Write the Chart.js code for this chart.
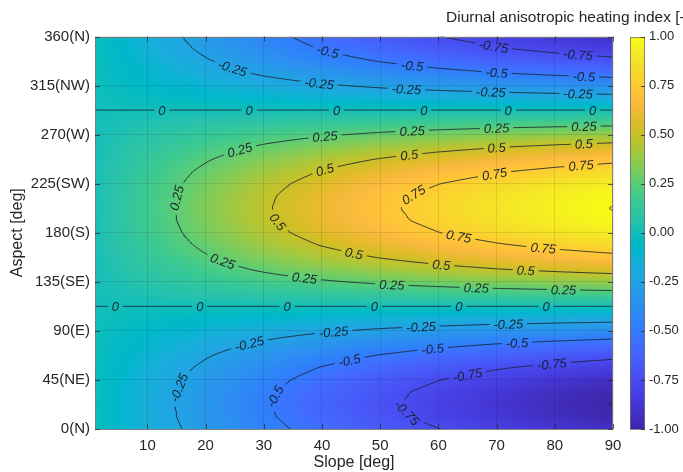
<!DOCTYPE html>
<html><head><meta charset="utf-8">
<script src="https://cdn.jsdelivr.net/npm/chart.js@4.4.1/dist/chart.umd.min.js"></script>
<style>html,body{margin:0;padding:0;background:#fff;overflow:hidden;}#wrap{width:683px;height:472px;position:relative;}canvas{display:block;}</style>
</head><body><div id="wrap"><canvas id="c" width="683" height="472"></canvas></div>
<script>
// ---------------- data ----------------
const slopeNodes = [0, 10, 20, 30, 40, 50, 60, 70, 80, 90];
const aspectNodes = [0, 11.25, 22.5, 33.75, 45, 56.25, 67.5, 78.75, 90, 101.25, 112.5, 123.75, 135, 146.25, 157.5, 168.75, 180, 191.25, 202.5, 213.75, 225, 236.25, 247.5, 258.75, 270, 281.25, 292.5, 303.75, 315, 326.25, 337.5, 348.75, 360];
// heating index, one row per aspect node, one column per slope node
const dahValues = [
  [0,-0.160,-0.310,-0.446,-0.563,-0.663,-0.747,-0.818,-0.877,-0.927],
  [0,-0.169,-0.329,-0.473,-0.598,-0.704,-0.793,-0.868,-0.931,-0.985],
  [0,-0.173,-0.336,-0.482,-0.610,-0.718,-0.808,-0.885,-0.949,-1.004],
  [0,-0.169,-0.329,-0.473,-0.598,-0.704,-0.793,-0.868,-0.931,-0.985],
  [0,-0.160,-0.310,-0.446,-0.563,-0.663,-0.747,-0.818,-0.877,-0.927],
  [0,-0.144,-0.279,-0.401,-0.507,-0.597,-0.672,-0.736,-0.789,-0.835],
  [0,-0.122,-0.237,-0.341,-0.431,-0.507,-0.572,-0.626,-0.671,-0.710],
  [0,-0.096,-0.187,-0.268,-0.339,-0.399,-0.449,-0.492,-0.527,-0.558],
  [0,-0.066,-0.129,-0.185,-0.233,-0.275,-0.309,-0.339,-0.363,-0.384],
  [0,-0.034,-0.066,-0.094,-0.119,-0.140,-0.158,-0.173,-0.185,-0.196],
  [0,0,0,0,0,0,0,0,0,0],
  [0,0.034,0.066,0.094,0.119,0.140,0.158,0.173,0.185,0.196],
  [0,0.066,0.129,0.185,0.233,0.275,0.309,0.339,0.363,0.384],
  [0,0.096,0.187,0.268,0.339,0.399,0.449,0.492,0.527,0.558],
  [0,0.122,0.237,0.341,0.431,0.507,0.572,0.626,0.671,0.710],
  [0,0.144,0.279,0.401,0.507,0.597,0.672,0.736,0.789,0.835],
  [0,0.160,0.310,0.446,0.563,0.663,0.747,0.818,0.877,0.927],
  [0,0.169,0.329,0.473,0.598,0.704,0.793,0.868,0.931,0.985],
  [0,0.173,0.336,0.482,0.610,0.718,0.808,0.885,0.949,1.004],
  [0,0.169,0.329,0.473,0.598,0.704,0.793,0.868,0.931,0.985],
  [0,0.160,0.310,0.446,0.563,0.663,0.747,0.818,0.877,0.927],
  [0,0.144,0.279,0.401,0.507,0.597,0.672,0.736,0.789,0.835],
  [0,0.122,0.237,0.341,0.431,0.507,0.572,0.626,0.671,0.710],
  [0,0.096,0.187,0.268,0.339,0.399,0.449,0.492,0.527,0.558],
  [0,0.066,0.129,0.185,0.233,0.275,0.309,0.339,0.363,0.384],
  [0,0.034,0.066,0.094,0.119,0.140,0.158,0.173,0.185,0.196],
  [0,0,0,0,0,0,0,0,0,0],
  [0,-0.034,-0.066,-0.094,-0.119,-0.140,-0.158,-0.173,-0.185,-0.196],
  [0,-0.066,-0.129,-0.185,-0.233,-0.275,-0.309,-0.339,-0.363,-0.384],
  [0,-0.096,-0.187,-0.268,-0.339,-0.399,-0.449,-0.492,-0.527,-0.558],
  [0,-0.122,-0.237,-0.341,-0.431,-0.507,-0.572,-0.626,-0.671,-0.710],
  [0,-0.144,-0.279,-0.401,-0.507,-0.597,-0.672,-0.736,-0.789,-0.835],
  [0,-0.160,-0.310,-0.446,-0.563,-0.663,-0.747,-0.818,-0.877,-0.927]
];
const contourLevels = [-1, -0.75, -0.5, -0.25, 0, 0.25, 0.5, 0.75, 1];
const xTickValues = [10, 20, 30, 40, 50, 60, 70, 80, 90];
const yTickValues = [0, 45, 90, 135, 180, 225, 270, 315, 360];
const yTickLabels = ['0(N)', '45(NE)', '90(E)', '135(SE)', '180(S)', '225(SW)', '270(W)', '315(NW)', '360(N)'];
const colorbarTicks = [-1, -0.75, -0.5, -0.25, 0, 0.25, 0.5, 0.75, 1];
const xTitle = 'Slope [deg]';
const yTitle = 'Aspect [deg]';
const colorbarTitle = 'Diurnal anisotropic heating index [-]';
// contour label anchors: [level, slope, aspect]
const labelAnchors = [
  [0,12.7,292.1],[0,27.6,292.1],[0,42.6,292.1],[0,57.5,292.1],[0,72.0,292.1],[0,86.6,292.1],
  [0,4.4,112],[0,19.0,112],[0,34.0,112],[0,48.8,112],[0,63.5,112],[0,78.3,112],
  [0.25,15.3,212.2],[0.25,25.9,256.2],[0.25,40.5,268.2],[0.25,55.3,274.6],[0.25,70.1,276.4],[0.25,84.8,277.4],
  [0.25,22.8,152.5],[0.25,37.1,139.6],[0.25,51.9,131.3],[0.25,66.6,129.5],[0.25,81.4,127.7],
  [0.5,32.3,190.1],[0.5,40.5,237.9],[0.5,55.1,251.6],[0.5,69.9,259.0],[0.5,84.8,262.7],
  [0.5,45.3,159.8],[0.5,60.3,149.7],[0.5,75.1,145.1],
  [0.75,55.6,216.7],[0.75,69.7,235.1],[0.75,84.3,242.5],[0.75,63.4,176.3],[0.75,78.0,166.2],
  [-0.25,24.7,329.7],[-0.25,39.5,315.9],[-0.25,54.3,311.3],[-0.25,69.0,309.5],[-0.25,83.8,307.7],
  [-0.25,15.6,37.7],[-0.25,27.6,79.0],[-0.25,42.2,89.1],[-0.25,56.8,93.7],[-0.25,72.0,95.5],
  [-0.5,41.2,348.1],[-0.5,55.5,333.4],[-0.5,70.2,327.0],[-0.5,84.8,323.3],
  [-0.5,32.3,29.4],[-0.5,44.8,61.5],[-0.5,59.1,73.5],[-0.5,73.7,79.0],
  [-0.75,69.4,351.7],[-0.75,84.0,342.6],
  [-0.75,54.8,15.6],[-0.75,64.9,49.6],[-0.75,79.7,59.7]
];

// ---------------- style ----------------
const FONT = "'Liberation Sans', Arial, Helvetica, sans-serif";
const TEXT = '#262626';
const AREA = { top: 36.5, bottom: 429 };
const parula = [
[0.2422,0.1504,0.6603],[0.2504,0.1650,0.7076],[0.2578,0.1818,0.7511],[0.2647,0.1978,0.7952],
[0.2706,0.2147,0.8364],[0.2751,0.2342,0.8710],[0.2783,0.2559,0.8991],[0.2803,0.2782,0.9221],
[0.2813,0.3006,0.9414],[0.2810,0.3228,0.9579],[0.2795,0.3447,0.9717],[0.2760,0.3667,0.9829],
[0.2699,0.3892,0.9906],[0.2602,0.4123,0.9952],[0.2440,0.4358,0.9988],[0.2206,0.4603,0.9973],
[0.1963,0.4847,0.9892],[0.1834,0.5074,0.9798],[0.1786,0.5289,0.9682],[0.1764,0.5499,0.9520],
[0.1687,0.5703,0.9359],[0.1540,0.5902,0.9218],[0.1460,0.6091,0.9079],[0.1380,0.6276,0.8973],
[0.1248,0.6459,0.8883],[0.1113,0.6635,0.8763],[0.0952,0.6798,0.8598],[0.0689,0.6948,0.8394],
[0.0297,0.7082,0.8163],[0.0036,0.7203,0.7917],[0.0067,0.7312,0.7660],[0.0433,0.7411,0.7394],
[0.0964,0.7500,0.7120],[0.1408,0.7584,0.6842],[0.1717,0.7670,0.6554],[0.1938,0.7758,0.6251],
[0.2161,0.7843,0.5923],[0.2470,0.7918,0.5567],[0.2906,0.7973,0.5188],[0.3406,0.8008,0.4789],
[0.3909,0.8029,0.4354],[0.4456,0.8024,0.3909],[0.5044,0.7993,0.3480],[0.5616,0.7942,0.3045],
[0.6174,0.7876,0.2612],[0.6720,0.7793,0.2227],[0.7242,0.7698,0.1910],[0.7738,0.7598,0.1646],
[0.8203,0.7498,0.1535],[0.8634,0.7406,0.1596],[0.9035,0.7330,0.1774],[0.9393,0.7288,0.2100],
[0.9728,0.7298,0.2394],[0.9956,0.7434,0.2371],[0.9970,0.7659,0.2199],[0.9952,0.7893,0.2028],
[0.9892,0.8136,0.1885],[0.9786,0.8386,0.1766],[0.9676,0.8639,0.1643],[0.9610,0.8890,0.1537],
[0.9597,0.9135,0.1423],[0.9628,0.9373,0.1265],[0.9691,0.9606,0.1064],[0.9769,0.9839,0.0805]];

function cmap(v) {
  let t = (v + 1) / 2; t = Math.max(0, Math.min(1, t));
  const f = t * 63, i = Math.min(62, Math.floor(f)), u = f - i;
  const a = parula[i], b = parula[i + 1];
  return [(a[0] + (b[0] - a[0]) * u) * 255, (a[1] + (b[1] - a[1]) * u) * 255, (a[2] + (b[2] - a[2]) * u) * 255];
}
function gridValue(s, a) {
  let i = 0; while (i < slopeNodes.length - 2 && s > slopeNodes[i + 1]) i++;
  let j = 0; while (j < aspectNodes.length - 2 && a > aspectNodes[j + 1]) j++;
  const tx = (s - slopeNodes[i]) / (slopeNodes[i + 1] - slopeNodes[i]);
  const ty = (a - aspectNodes[j]) / (aspectNodes[j + 1] - aspectNodes[j]);
  const r0 = dahValues[j], r1 = dahValues[j + 1];
  const v0 = r0[i] + (r0[i + 1] - r0[i]) * tx;
  const v1 = r1[i] + (r1[i + 1] - r1[i]) * tx;
  return v0 + (v1 - v0) * ty;
}

// ---------------- contour tracing (marching squares on the grid field) ----------------
const X_MIN = 1, X_MAX = 90;
const NS = 179, NA = 361;
const sx = [], sy = [];
for (let i = 0; i < NS; i++) sx.push(X_MIN + (X_MAX - X_MIN) * i / (NS - 1));
for (let j = 0; j < NA; j++) sy.push(360 * j / (NA - 1));
const F = new Float64Array(NS * NA);
for (let j = 0; j < NA; j++) for (let i = 0; i < NS; i++) F[j * NS + i] = gridValue(sx[i], sy[j]);

function traceLevel(L) {
  const segs = [];
  const ptOf = (id) => {
    const isV = id & 1, k = id >> 1, i = k % NS, j = (k - i) / NS;
    if (!isV) { const a = F[j * NS + i], b = F[j * NS + i + 1]; const t = (L - a) / (b - a); return { x: sx[i] + t * (sx[i + 1] - sx[i]), y: sy[j] }; }
    const a = F[j * NS + i], b = F[(j + 1) * NS + i]; const t = (L - a) / (b - a); return { x: sx[i], y: sy[j] + t * (sy[j + 1] - sy[j]) };
  };
  for (let j = 0; j < NA - 1; j++) for (let i = 0; i < NS - 1; i++) {
    const v0 = F[j * NS + i], v1 = F[j * NS + i + 1], v2 = F[(j + 1) * NS + i + 1], v3 = F[(j + 1) * NS + i];
    const c = (v0 >= L ? 1 : 0) | (v1 >= L ? 2 : 0) | (v2 >= L ? 4 : 0) | (v3 >= L ? 8 : 0);
    if (c === 0 || c === 15) continue;
    const B = (j * NS + i) * 2, T = ((j + 1) * NS + i) * 2, Lf = (j * NS + i) * 2 + 1, R = (j * NS + i + 1) * 2 + 1;
    const ctr = (v0 + v1 + v2 + v3) / 4 >= L;
    switch (c) {
      case 1: case 14: segs.push([Lf, B]); break;
      case 2: case 13: segs.push([B, R]); break;
      case 3: case 12: segs.push([Lf, R]); break;
      case 4: case 11: segs.push([R, T]); break;
      case 6: case 9: segs.push([B, T]); break;
      case 7: case 8: segs.push([Lf, T]); break;
      case 5: if (ctr) { segs.push([B, R]); segs.push([Lf, T]); } else { segs.push([Lf, B]); segs.push([R, T]); } break;
      case 10: if (ctr) { segs.push([Lf, B]); segs.push([R, T]); } else { segs.push([B, R]); segs.push([Lf, T]); } break;
    }
  }
  const adj = new Map();
  segs.forEach((s, k) => { for (const e of s) { if (!adj.has(e)) adj.set(e, []); adj.get(e).push(k); } });
  const used = new Uint8Array(segs.length);
  const lines = [];
  const walk = (start) => {
    const out = []; let cur = start;
    for (;;) {
      const nb = adj.get(cur); let nx = -1;
      for (const q of nb) if (!used[q]) { nx = q; break; }
      if (nx < 0) break;
      used[nx] = 1;
      const o = segs[nx][0] === cur ? segs[nx][1] : segs[nx][0];
      out.push(o); cur = o;
    }
    return out;
  };
  for (let k = 0; k < segs.length; k++) {
    if (used[k]) continue; used[k] = 1;
    const fwd = walk(segs[k][1]);
    const back = walk(segs[k][0]);
    const ids = back.reverse().concat([segs[k][0], segs[k][1]], fwd);
    lines.push(ids.map(ptOf));
  }
  return lines;
}

const contourPaths = new Map();
const datasets = [];
for (const L of contourLevels) {
  const lines = traceLevel(L);
  contourPaths.set(L, lines);
  for (const pts of lines) {
    datasets.push({
      data: pts, showLine: true, borderColor: 'rgba(28,36,52,0.85)', borderWidth: 1,
      pointRadius: 0, pointHoverRadius: 0, pointBorderWidth: 0, fill: false, tension: 0
    });
  }
}

// ---------------- plugins ----------------
const heatmapPlugin = {
  id: 'heatmap',
  beforeDraw(chart) {
    const { ctx, chartArea: a, scales } = chart;
    const x = scales.x, y = scales.y, cb = scales.cb;
    const L = Math.round(a.left), T = Math.round(a.top), W = Math.round(a.right) - L, H = Math.round(a.bottom) - T;
    const img = ctx.createImageData(W, H);
    const cs = [], rs = [];
    for (let c = 0; c < W; c++) cs.push(Math.max(X_MIN, Math.min(X_MAX, x.getValueForPixel(L + c + 0.5))));
    for (let r = 0; r < H; r++) rs.push(Math.max(0, Math.min(360, y.getValueForPixel(T + r + 0.5))));
    let p = 0;
    for (let r = 0; r < H; r++) for (let c = 0; c < W; c++) {
      const col = cmap(gridValue(cs[c], rs[r]));
      img.data[p++] = col[0]; img.data[p++] = col[1]; img.data[p++] = col[2]; img.data[p++] = 255;
    }
    ctx.putImageData(img, L, T);
    const x0 = Math.round(a.right) + 17, bw = 15;
    for (let r = T; r < T + H; r++) {
      const col = cmap(cb.getValueForPixel(r + 0.5));
      ctx.fillStyle = `rgb(${col[0] | 0},${col[1] | 0},${col[2] | 0})`;
      ctx.fillRect(x0, r, bw, 1);
    }
  },
  beforeDatasetsDraw(chart) {
    const { ctx, scales: { x, y } } = chart;
    ctx.save();
    ctx.font = `italic 13px ${FONT}`;
    const labs = [];
    for (const [lev, s, asp] of labelAnchors) {
      const ax = x.getPixelForValue(s), ay = y.getPixelForValue(asp);
      let best = null, bd = Infinity;
      for (const line of contourPaths.get(lev)) {
        const P = line.map(q => [x.getPixelForValue(q.x), y.getPixelForValue(q.y)]);
        for (let k = 0; k < P.length; k++) {
          const d = (P[k][0] - ax) ** 2 + (P[k][1] - ay) ** 2;
          if (d < bd) { bd = d; best = { P, k }; }
        }
      }
      if (!best) continue;
      const { P, k } = best;
      let k1 = k, k2 = k;
      while (k1 > 0 && Math.hypot(P[k1][0] - P[k][0], P[k1][1] - P[k][1]) < 8) k1--;
      while (k2 < P.length - 1 && Math.hypot(P[k2][0] - P[k][0], P[k2][1] - P[k][1]) < 8) k2++;
      let ang = Math.atan2(P[k2][1] - P[k1][1], P[k2][0] - P[k1][0]);
      if (ang > Math.PI / 2) ang -= Math.PI;
      if (ang <= -Math.PI / 2) ang += Math.PI;
      const text = String(lev);
      const w = ctx.measureText(text).width;
      labs.push({ cx: P[k][0], cy: P[k][1], ang, text, w });
    }
    chart.$labs = labs;
    ctx.restore();
    ctx.save();
    ctx.beginPath();
    ctx.rect(0, 0, chart.width, chart.height);
    for (const l of labs) {
      const hw = l.w / 2 + 4, hh = 7, c = Math.cos(l.ang), s = Math.sin(l.ang);
      const pts = [[-hw, -hh], [hw, -hh], [hw, hh], [-hw, hh]].map(([u, v]) => [l.cx + u * c - v * s, l.cy + u * s + v * c]);
      ctx.moveTo(pts[0][0], pts[0][1]);
      for (let i = 1; i < 4; i++) ctx.lineTo(pts[i][0], pts[i][1]);
      ctx.closePath();
    }
    ctx.clip('evenodd');
  },
  afterDatasetsDraw(chart) {
    const { ctx } = chart;
    ctx.restore();
    ctx.save();
    ctx.font = `italic 13px ${FONT}`;
    ctx.fillStyle = 'rgba(22,28,42,0.95)';
    ctx.textAlign = 'center'; ctx.textBaseline = 'middle';
    for (const l of chart.$labs) {
      ctx.save(); ctx.translate(l.cx, l.cy); ctx.rotate(l.ang); ctx.fillText(l.text, 0, 1); ctx.restore();
    }
    ctx.restore();
  },
  afterDraw(chart) {
    const { ctx, chartArea: a, scales: { x, y, cb } } = chart;
    ctx.save();
    ctx.strokeStyle = 'rgba(120,120,120,0.9)'; ctx.lineWidth = 1;
    ctx.strokeRect(Math.round(a.left) + 0.5, Math.round(a.top) + 0.5, Math.round(a.right - a.left) - 1, Math.round(a.bottom - a.top) - 1);
    ctx.strokeStyle = 'rgba(40,40,40,0.75)';
    ctx.beginPath();
    for (const v of xTickValues) {
      const px = Math.round(x.getPixelForValue(v)) + 0.5;
      ctx.moveTo(px, a.bottom); ctx.lineTo(px, a.bottom - 5);
      ctx.moveTo(px, a.top); ctx.lineTo(px, a.top + 5);
    }
    for (const v of yTickValues) {
      const py = Math.round(y.getPixelForValue(v)) + 0.5;
      ctx.moveTo(a.left, py); ctx.lineTo(a.left + 5, py);
      ctx.moveTo(a.right, py); ctx.lineTo(a.right - 5, py);
    }
    ctx.stroke();
    const x0 = Math.round(a.right) + 17, bw = 15;
    ctx.strokeStyle = 'rgba(110,110,110,0.8)';
    ctx.strokeRect(x0 + 0.5, Math.round(a.top) + 0.5, bw - 1, Math.round(a.bottom - a.top) - 1);
    ctx.strokeStyle = 'rgba(40,40,40,0.8)';
    ctx.beginPath();
    for (const v of colorbarTicks) {
      const py = Math.round(cb.getPixelForValue(v)) + 0.5;
      ctx.moveTo(x0 + bw - 4, py); ctx.lineTo(x0 + bw, py);
    }
    ctx.stroke();
    ctx.fillStyle = TEXT; ctx.font = `15.5px ${FONT}`;
    ctx.textAlign = 'left'; ctx.textBaseline = 'middle';
    ctx.fillText(colorbarTitle, 446, 18);
    ctx.restore();
  }
};

let padTop = 36, xBoxH = 43;
const chart = new Chart(document.getElementById('c'), {
  type: 'scatter',
  data: { datasets },
  plugins: [heatmapPlugin],
  options: {
    responsive: false, animation: false, devicePixelRatio: 1, events: [],
    layout: { autoPadding: false, padding: { top: padTop, left: 0, right: 0, bottom: 0 } },
    plugins: { legend: { display: false }, tooltip: { enabled: false } },
    scales: {
      x: {
        type: 'linear', min: X_MIN, max: X_MAX,
        afterBuildTicks: s => { s.ticks = xTickValues.map(v => ({ value: v })); },
        afterFit: s => { s.height = xBoxH; },
        grid: { color: 'rgba(0,0,0,0.10)', drawTicks: false },
        border: { display: false },
        ticks: { autoSkip: false, maxRotation: 0, padding: 8, color: TEXT, font: { family: FONT, size: 15 }, callback: v => String(v) },
        title: { display: true, text: xTitle, color: TEXT, font: { family: FONT, size: 16 }, padding: { top: 0, bottom: 0 } }
      },
      y: {
        type: 'linear', position: 'left', min: 0, max: 360,
        afterBuildTicks: s => { s.ticks = yTickValues.map(v => ({ value: v })); },
        afterFit: s => { s.width = 95; },
        grid: { color: 'rgba(0,0,0,0.10)', drawTicks: false },
        border: { display: false },
        ticks: { autoSkip: false, padding: 5, color: TEXT, font: { family: FONT, size: 15 }, callback: v => yTickLabels[yTickValues.indexOf(v)] },
        title: { display: true, text: yTitle, color: TEXT, font: { family: FONT, size: 16 }, padding: { top: 8, bottom: 0 } }
      },
      cb: {
        type: 'linear', axis: 'y', position: 'right', min: -1, max: 1,
        afterBuildTicks: s => { s.ticks = colorbarTicks.map(v => ({ value: v })); },
        afterFit: s => { s.width = 70; },
        grid: { display: true, drawOnChartArea: false, drawTicks: true, tickLength: 36, color: 'rgba(0,0,0,0)' },
        border: { display: false },
        ticks: { autoSkip: false, padding: 0, color: TEXT, font: { family: FONT, size: 13 }, callback: v => v.toFixed(2) }
      }
    }
  }
});
// keep the plot frame where the reference has it
for (let it = 0; it < 3; it++) {
  const ca = chart.chartArea;
  const dT = ca.top - AREA.top, dB = ca.bottom - AREA.bottom;
  if (Math.abs(dT) < 0.3 && Math.abs(dB) < 0.3) break;
  padTop -= dT; xBoxH += dB;
  chart.options.layout.padding = { top: padTop, left: 0, right: 0, bottom: 0 };
  chart.update();
}
</script>
</body></html>
